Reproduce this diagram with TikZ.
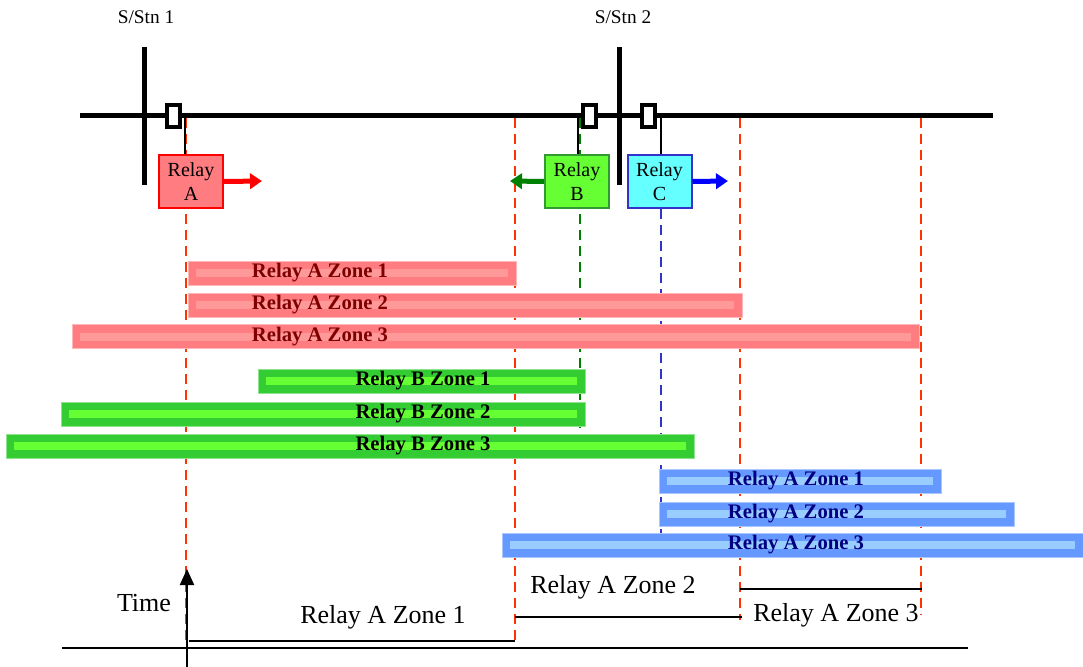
\documentclass[tikz,border=0pt]{standalone}
\usepackage{fontspec}
\setmainfont{Liberation Serif}
\usetikzlibrary{arrows.meta}
\definecolor{dashred}{HTML}{FF3300}
\definecolor{relayAfill}{HTML}{FF7C80}
\definecolor{relayAborder}{HTML}{FF0000}
\definecolor{relayBfill}{HTML}{66FF33}
\definecolor{relayBborder}{HTML}{339933}
\definecolor{relayCfill}{HTML}{66FFFF}
\definecolor{relayCborder}{HTML}{3333CC}
\definecolor{arrowA}{HTML}{FF0000}
\definecolor{arrowB}{HTML}{008000}
\definecolor{arrowC}{HTML}{0000FF}
\definecolor{barRout}{HTML}{FF7C80}
\definecolor{barRin}{HTML}{FF9999}
\definecolor{barRtext}{HTML}{800000}
\definecolor{barGout}{HTML}{33CC33}
\definecolor{barGin}{HTML}{66FF33}
\definecolor{barBout}{HTML}{6699FF}
\definecolor{barBin}{HTML}{99CCFF}
\definecolor{barBtext}{HTML}{000080}
\definecolor{greendash}{HTML}{008000}
\definecolor{bluedash}{HTML}{3333CC}
\newcommand{\zonebar}[9]{%
  \fill[#5, draw=#5!55!white, line width=0.75pt] (#2,#4-12) rectangle (#3,#4+12);
  \fill[#6] (#2+8,#4-4) rectangle (#3-8,#4+4);
  \node[zonelbl, text=#7] (#1) at (#8,#4) {#9};
}
\begin{document}
\begin{tikzpicture}[x=0.75pt,y=-0.75pt,
  bus/.style={line width=3.75pt},
  stnbar/.style={line width=3.75pt},
  breaker/.style={draw, line width=3pt, fill=white, minimum width=9.75pt, minimum height=16.5pt, inner sep=0pt},
  relaybox/.style={draw, line width=1.5pt, minimum width=48pt, minimum height=39.75pt, inner sep=0pt, align=center, font=\fontsize{15}{18}\selectfont},
  tap/.style={line width=1.1pt},
  vdash/.style={line width=1.5pt, dash pattern=on 7.5pt off 4.5pt},
  dirarrow/.style={line width=3.75pt, -{Triangle[length=9pt,width=11.5pt]}},
  stnlbl/.style={font=\fontsize{14.5}{17}\selectfont, inner sep=0pt},
  zonelbl/.style={font=\fontsize{15.5}{18}\selectfont\bfseries, inner sep=0pt},
  steplbl/.style={font=\fontsize{19.5}{22}\selectfont, inner sep=0pt},
  stepline/.style={line width=1.5pt},
]
\useasboundingbox (0,0) rectangle (1083,667);
% busbar and stations
\coordinate (busL) at (80,116);
\coordinate (busR) at (993,116);
\draw[bus] (busL) -- (busR);
\coordinate (s1t) at (144.5,47);
\coordinate (s1b) at (144.5,185);
\coordinate (s2t) at (619,47);
\coordinate (s2b) at (619,185);
\draw[stnbar] (s1t) -- (s1b);
\draw[stnbar] (s2t) -- (s2b);
\node[stnlbl] (stn1) at (146,17) {S/Stn 1};
\node[stnlbl] (stn2) at (623,17) {S/Stn 2};
% dashed reach lines
\coordinate (d1t) at (186,118);   \coordinate (d1b) at (186,645);
\coordinate (d2t) at (515,118);   \coordinate (d2b) at (515,645);
\coordinate (d3t) at (740,118);   \coordinate (d3b) at (740,620);
\coordinate (d4t) at (921,118);   \coordinate (d4b) at (921,615);
\coordinate (dgt) at (580,118);   \coordinate (dgb) at (580,428);
\coordinate (dbt) at (661,209);   \coordinate (dbb) at (661,536);
\draw[vdash, dashred] (d1t) -- (d1b);
\draw[vdash, dashred] (d2t) -- (d2b);
\draw[vdash, dashred] (d3t) -- (d3b);
\draw[vdash, dashred] (d4t) -- (d4b);
\draw[vdash, greendash] (dgt) -- (dgb);
\draw[vdash, bluedash] (dbt) -- (dbb);
% relays
\node[relaybox, fill=relayAfill, draw=relayAborder] (relayA) at (191,181.5) {Relay\\A};
\node[relaybox, fill=relayBfill, draw=relayBborder] (relayB) at (577,181.5) {Relay\\B};
\node[relaybox, fill=relayCfill, draw=relayCborder] (relayC) at (659.5,181.5) {Relay\\C};
% taps
\coordinate (tA) at (185,118);
\coordinate (tB) at (578,118);
\coordinate (tC) at (661,118);
\draw[tap] (tA) -- (tA |- relayA.north);
\draw[tap] (tB) -- (tB |- relayB.north);
\draw[tap] (tC) -- (tC |- relayC.north);
% breakers
\node[breaker] (brA) at (173.5,116) {};
\node[breaker] (brB) at (589,116) {};
\node[breaker] (brC) at (648,116) {};
% direction arrows
\coordinate (aA) at (262,181);
\coordinate (aB) at (510,181);
\coordinate (aC) at (728,181);
\draw[dirarrow, arrowA] (relayA.east) -- (aA);
\draw[dirarrow, arrowB] (relayB.west) -- (aB);
\draw[dirarrow, arrowC] (relayC.east) -- (aC);
% zone bars
\zonebar{zA1}{188}{516}{273}{barRout}{barRin}{barRtext}{320}{Relay A Zone 1}
\zonebar{zA2}{188}{742}{305}{barRout}{barRin}{barRtext}{320}{Relay A Zone 2}
\zonebar{zA3}{72}{919}{336.5}{barRout}{barRin}{barRtext}{320}{Relay A Zone 3}
\zonebar{zB1}{258}{585}{381}{barGout}{barGin}{black}{423}{Relay B Zone 1}
\zonebar{zB2}{61}{585}{414}{barGout}{barGin}{black}{423}{Relay B Zone 2}
\zonebar{zB3}{6}{694}{446}{barGout}{barGin}{black}{423}{Relay B Zone 3}
\zonebar{zC1}{659}{941}{481}{barBout}{barBin}{barBtext}{796}{Relay A Zone 1}
\zonebar{zC2}{659}{1014}{514}{barBout}{barBin}{barBtext}{796}{Relay A Zone 2}
\zonebar{zC3}{502}{1083}{545}{barBout}{barBin}{barBtext}{796}{Relay A Zone 3}
% time-distance characteristic
\coordinate (axL) at (62,648);
\coordinate (axR) at (968,648);
\draw[line width=1.5pt] (axL) -- (axR);
\coordinate (tb) at (187,667);
\coordinate (tt) at (187,569);
\draw[line width=1.5pt, -{Triangle[length=12pt,width=10.5pt]}] (tb) -- (tt);
\node[steplbl] (timelbl) at (144,603) {Time};
\coordinate (z1a) at (189,641); \coordinate (z1b) at (515,641);
\coordinate (z2a) at (515,617); \coordinate (z2b) at (742,617);
\coordinate (z3a) at (740,589); \coordinate (z3b) at (922,589);
\draw[stepline] (z1a) -- (z1b);
\draw[stepline] (z2a) -- (z2b);
\draw[stepline] (z3a) -- (z3b);
\node[steplbl] (l1) at (383,617) {Relay A Zone 1};
\node[steplbl] (l2) at (613,587) {Relay A Zone 2};
\node[steplbl] (l3) at (836,615) {Relay A Zone 3};
\end{tikzpicture}
\end{document}
